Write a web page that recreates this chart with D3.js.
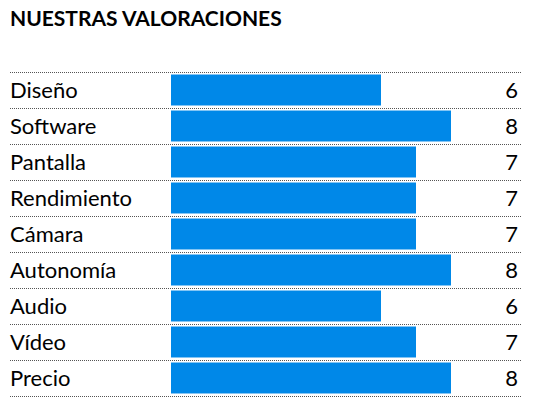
<!DOCTYPE html>
<html><head><meta charset="utf-8">
<script src="https://cdn.jsdelivr.net/npm/d3@7"></script>
<style>body{margin:0;background:#fff}</style>
</head><body>
<svg id="chart" width="533" height="405"></svg>
<script>
const categories = ["Diseño", "Software", "Pantalla", "Rendimiento", "Cámara", "Autonomía", "Audio", "Vídeo", "Precio"];
const scores = [6, 8, 7, 7, 7, 8, 6, 7, 8];
const title = "NUESTRAS VALORACIONES";

const svg = d3.select("#chart");
const font = "Lato, 'Open Sans', sans-serif";

svg.append("text").attr("x", 10).attr("y", 26)
    .attr("font-family", font).attr("font-weight", "bold").attr("font-size", 21)
    .text(title);

const y = d3.scaleBand().domain(categories).range([72, 396]).paddingInner(0.14).paddingOuter(0.07);
const x = d3.scaleLinear().domain([0, 10]).range([171, 521]);

// dotted separators
const edges = d3.range(categories.length + 1).map(i => 72 + i * 36);
svg.selectAll("line.sep").data(edges).join("line")
    .attr("class", "sep")
    .attr("x1", 10).attr("x2", 521)
    .attr("y1", d => d + 0.5).attr("y2", d => d + 0.5)
    .attr("stroke", "#555").attr("stroke-width", 1).attr("stroke-dasharray", "1,1");

svg.selectAll("rect.bar").data(scores).join("rect")
    .attr("class", "bar")
    .attr("x", x(0))
    .attr("y", (d, i) => y(categories[i]))
    .attr("width", d => x(d) - x(0))
    .attr("height", y.bandwidth())
    .attr("fill", "#0088e8");

svg.selectAll("text.cat").data(categories).join("text")
    .attr("class", "cat")
    .attr("x", 10).attr("y", d => y(d) + y.bandwidth() / 2 + 8)
    .attr("font-family", font).attr("font-size", 22).attr("fill", "#000")
    .text(d => d);

svg.selectAll("text.val").data(scores).join("text")
    .attr("class", "val")
    .attr("x", 518).attr("y", (d, i) => y(categories[i]) + y.bandwidth() / 2 + 8)
    .attr("text-anchor", "end")
    .attr("font-family", font).attr("font-size", 22).attr("fill", "#000")
    .text(d => d);
</script>
</body></html>
